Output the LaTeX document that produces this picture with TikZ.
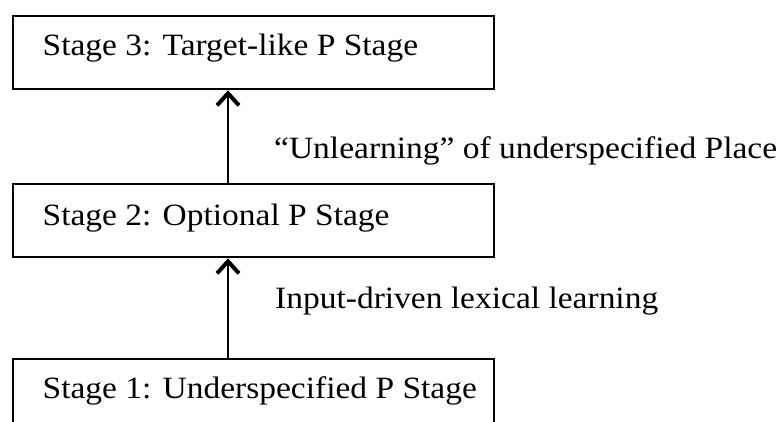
\documentclass[tikz,border=0pt]{standalone}
\usepackage{fontspec}
\setmainfont{Liberation Serif}
\usetikzlibrary{arrows.meta,calc}
\newcommand\widetext[1]{\scalebox{1.08}[1]{#1}}
\begin{document}
\begin{tikzpicture}[x=1pt,y=-1pt,
  stagebox/.style={draw=black, line width=2.4pt, minimum width=481pt,
    minimum height=73pt, inner sep=0pt, anchor=north west},
  stagetext/.style={anchor=base west, inner sep=0pt,
    font=\fontsize{31}{37}\selectfont},
  steplabel/.style={anchor=base west, inner sep=0pt,
    font=\fontsize{31}{37}\selectfont},
  flow/.style={line width=2.2pt,
    -{Straight Barb[length=12pt,width=22pt,line width=4pt]}}]
  \clip (0,0) rectangle (777,421);

  % the three stages
  \node[stagebox] (s3) at (12,15) {};
  \node[stagebox] (s2) at (12,183) {};
  \node[stagebox] (s1) at (12,358) {};

  \node[stagetext] (t3) at (42.5,55) {\widetext{Stage 3: Target-like P Stage}};
  \node[stagetext] (t2) at (42.5,225) {\widetext{Stage 2: Optional P Stage}};
  \node[stagetext] (t1) at (42.5,398) {\widetext{Stage 1: Underspecified P Stage}};

  % transitions between stages
  \coordinate (a1) at ($(s1.north west)+(216,0)$);
  \coordinate (b1) at ($(s2.south west)+(216,0)$);
  \coordinate (a2) at ($(s2.north west)+(216,0)$);
  \coordinate (b2) at ($(s3.south west)+(216,0)$);
  \draw[flow] (a1) -- (b1);
  \draw[flow] (a2) -- (b2);

  \node[steplabel] (l2) at (274,158) {\widetext{“Unlearning” of underspecified Place}};
  \node[steplabel] (l1) at (275,308) {\widetext{Input-driven lexical learning}};
\end{tikzpicture}
\end{document}
